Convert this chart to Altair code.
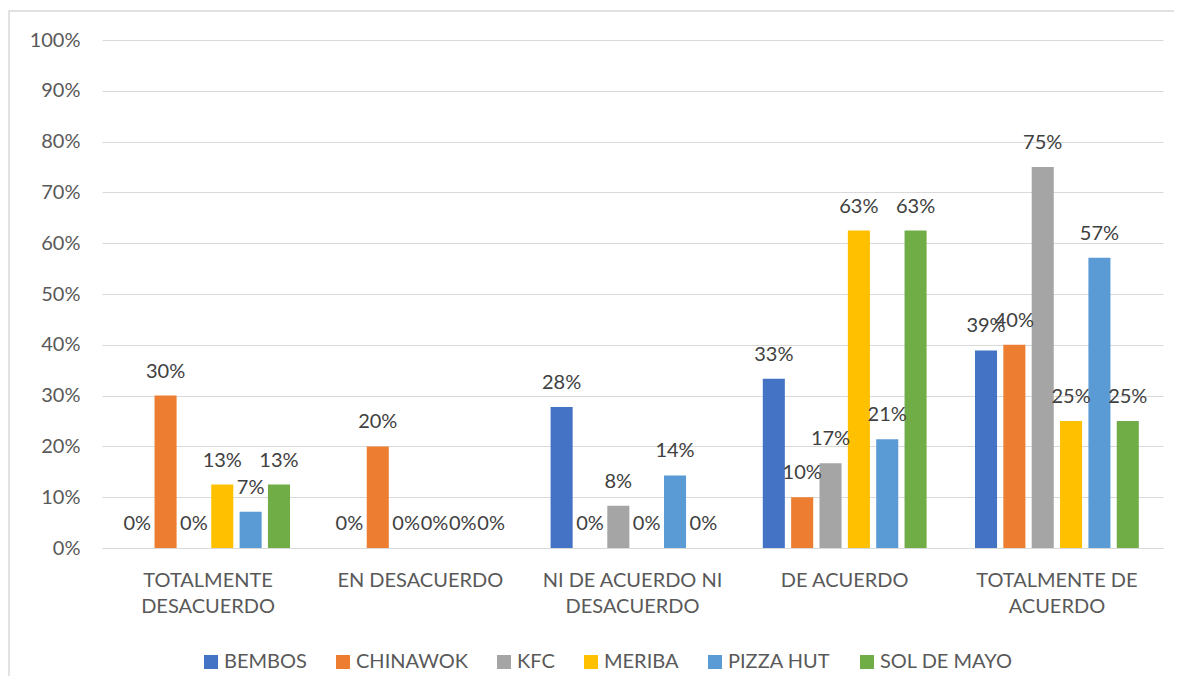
import math
import altair as alt
import pandas as pd

categories = ["TOTALMENTE DESACUERDO", "EN DESACUERDO", "NI DE ACUERDO NI DESACUERDO",
              "DE ACUERDO", "TOTALMENTE DE ACUERDO"]
category_lines = [["TOTALMENTE", "DESACUERDO"], ["EN DESACUERDO"],
                  ["NI DE ACUERDO NI", "DESACUERDO"], ["DE ACUERDO"],
                  ["TOTALMENTE DE", "ACUERDO"]]
series = ["BEMBOS", "CHINAWOK", "KFC", "MERIBA", "PIZZA HUT", "SOL DE MAYO"]
colors = ["#4472C4", "#ED7D31", "#A5A5A5", "#FFC000", "#5B9BD5", "#70AD47"]

bembos = [0, 0, 27.78, 33.33, 38.89]
chinawok = [30, 20, 0, 10, 40]
kfc = [0, 0, 8.33, 16.67, 75]
meriba = [12.5, 0, 0, 62.5, 25]
pizza_hut = [7.14, 0, 14.29, 21.43, 57.14]
sol_de_mayo = [12.5, 0, 0, 62.5, 25]

values = [bembos, chinawok, kfc, meriba, pizza_hut, sol_de_mayo]

rows = []
for s, vals in zip(series, values):
    for c, v in zip(categories, vals):
        rows.append({"cat": c, "marca": s, "val": v / 100.0,
                     "label": f"{int(math.floor(v + 0.5))}%"})
df = pd.DataFrame(rows)

label_expr = "datum.label"
for c, lines in reversed(list(zip(categories, category_lines))):
    arr = "[" + ",".join(f"'{l}'" for l in lines) + "]"
    label_expr = f"datum.value == '{c}' ? {arr} : ({label_expr})"

FONT = "Lato"

x_enc = alt.X("cat:N", sort=categories,
              scale=alt.Scale(paddingInner=0.228, paddingOuter=0.114),
              axis=alt.Axis(title=None, labelAngle=0, ticks=False, grid=False,
                            domainColor="#d9d9d9", domainWidth=1,
                            labelFontSize=20, labelFont=FONT, labelColor="#595959",
                            labelPadding=22, labelLineHeight=26, labelLimit=0,
                            labelExpr=label_expr))
xo_enc = alt.XOffset("marca:N", sort=series,
                     scale=alt.Scale(paddingInner=0.222, paddingOuter=0))
y_enc = alt.Y("val:Q", scale=alt.Scale(domain=[0, 1]),
              axis=alt.Axis(title=None, values=[i / 10 for i in range(11)],
                            format=".0%", domain=False, ticks=False,
                            gridColor="#d9d9d9", gridWidth=1,
                            labelFontSize=20, labelFont=FONT, labelColor="#595959",
                            labelPadding=22))

base = alt.Chart(df)
bars = base.mark_bar().encode(
    x=x_enc, xOffset=xo_enc, y=y_enc,
    color=alt.Color("marca:N", sort=series,
                    scale=alt.Scale(domain=series, range=colors),
                    legend=alt.Legend(orient="none", legendX=99, legendY=612,
                                      direction="horizontal", columns=6, title=None,
                                      symbolType="square", symbolSize=196,
                                      symbolStrokeWidth=0, labelFontSize=20,
                                      labelFont=FONT, labelColor="#595959",
                                      labelOffset=3, columnPadding=26, padding=0)),
)
texts = base.mark_text(dy=-18, baseline="alphabetic", fontSize=20, font=FONT,
                       color="#404040").encode(
    x=x_enc, xOffset=xo_enc, y=y_enc, text="label:N")

border = alt.Chart(pd.DataFrame({"a": [0]})).mark_rect(
    filled=False, stroke="#d9d9d9", strokeWidth=1.5).encode(
    x=alt.value(-93), x2=alt.value(1100), y=alt.value(-29), y2=alt.value(700))

chart = alt.layer(border, bars, texts).properties(
    width=1061, height=508,
    padding={"left": 94, "top": 32, "right": 11, "bottom": 128},
    autosize=alt.AutoSizeParams(type="none"),
).configure_view(stroke=None)

chart.save("out.html", embed_options={"renderer": "svg", "actions": False})
